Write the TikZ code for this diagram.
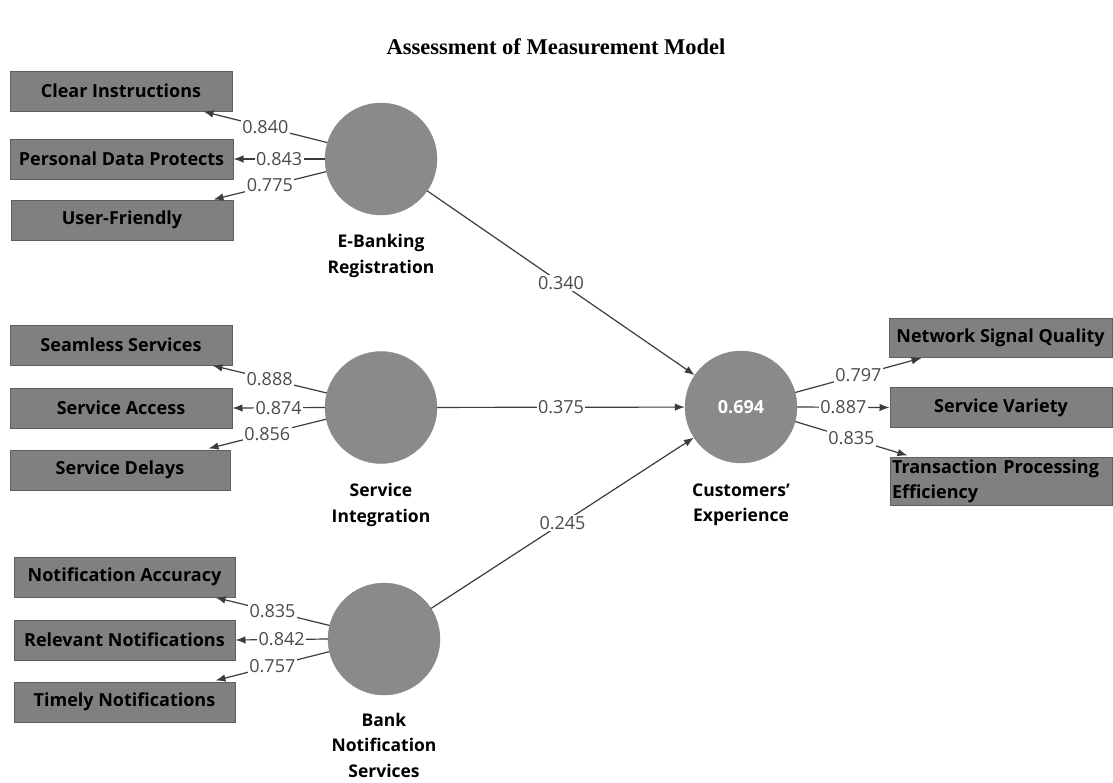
\documentclass[tikz,border=0pt]{standalone}
\usepackage{fontspec}
\setmainfont{Open Sans}
\newfontfamily\titlefont{Liberation Serif}
\usetikzlibrary{arrows.meta}
\definecolor{boxgray}{RGB}{128,128,128}
\definecolor{boxedge}{RGB}{95,95,95}
\definecolor{circgray}{RGB}{138,138,138}
\definecolor{linegray}{RGB}{60,60,60}
\definecolor{numgray}{RGB}{75,75,75}
\tikzset{
  ind/.style={draw=boxedge, fill=boxgray, line width=1pt, minimum width=222pt, minimum height=40pt, inner sep=0pt, font=\fontsize{18}{20}\selectfont\bfseries, text=black},
  lat/.style={circle, fill=circgray, draw=circgray, minimum size=112pt, inner sep=0pt},
  latlab/.style={font=\fontsize{17.5}{25.5}\selectfont\bfseries, align=center, text=black},
  path/.style={draw=linegray, line width=1.2pt, -{Latex[length=10pt,width=7.5pt]}},
  num/.style={fill=white, inner sep=1.5pt, font=\fontsize{18}{20}\selectfont, text=numgray}
}
\begin{document}
\begin{tikzpicture}[x=1pt,y=-1pt]
\useasboundingbox[fill=white] (0,0) rectangle (1113,782);
\node[font=\fontsize{22.5}{26}\selectfont\titlefont\bfseries] (title) at (556,47) {Assessment of Measurement Model};

% latent variables
\node[lat] (eb) at (381,159) {};
\node[lat] (si) at (381,407.5) {};
\node[lat] (bn) at (384,639) {};
\node[lat, font=\fontsize{18}{20}\selectfont\bfseries, text=white] (ce) at (741,407) {0.694};

\node[latlab] (ebl) at (381,256) {E-Banking\\Registration};
\node[latlab] (sil) at (381,505) {Service\\Integration};
\node[latlab] (bnl) at (384,745) {Bank\\Notification\\Services};
\node[latlab] (cel) at (741,505) {Customers'\\Experience};

% indicators
\node[ind] (ci) at (121,91) {Clear Instructions};
\node[ind, minimum width=223pt] (pd) at (121.5,159) {Personal Data Protects};
\node[ind] (uf) at (122,220) {User-Friendly};

\node[ind] (ss) at (121,345) {Seamless Services};
\node[ind] (sa) at (121,408) {Service Access};
\node[ind, minimum width=220pt] (sd) at (120,470) {Service Delays};

\node[ind, minimum width=221pt] (na) at (124.5,577) {Notification Accuracy};
\node[ind, minimum width=221pt] (rn) at (124.5,640) {Relevant Notifications};
\node[ind, minimum width=221pt] (tn) at (124.5,702) {Timely Notifications};

\node[ind, minimum width=223pt, minimum height=39pt] (nsq) at (1000.5,338) {Network Signal Quality};
\node[ind, minimum width=222pt] (sv) at (1001,407.5) {Service Variety};
\node[ind, minimum width=222pt, minimum height=48pt, text width=218pt, align=left, font=\fontsize{18}{25}\selectfont\bfseries] (tpe) at (1001,481) {Transaction Processing\\Efficiency};

% outer loadings
\draw[path] (eb.163.5) -- node[num] {0.840} ([xshift=-29pt]ci.south east);
\draw[path] (eb.180) -- node[num] {0.843} (pd.east);
\draw[path] (eb.193.5) -- node[num] {0.775} ([xshift=-20pt]uf.north east);

\draw[path] (si.165) -- node[num] {0.888} ([xshift=-20pt]ss.south east);
\draw[path] (si.180) -- node[num] {0.874} (sa.east);
\draw[path] (si.192.6) -- node[num] {0.856} ([xshift=-22pt,yshift=1pt]sd.north east);

\draw[path] (bn.166) -- node[num] {0.835} ([xshift=-20pt]na.south east);
\draw[path] (bn.180) -- node[num] {0.842} (rn.east);
\draw[path] (bn.193) -- node[num] {0.757} ([xshift=-20pt,yshift=1pt]tn.north east);

\draw[path] (ce.15) -- node[num] {0.797} ([xshift=33pt]nsq.south west);
\draw[path] (ce.0) -- node[num] {0.887} (sv.west);
\draw[path] (ce.-15) -- node[num] {0.835} ([xshift=18pt,yshift=1pt]tpe.north west);

% structural paths
\draw[path] (eb) -- node[num] {0.340} (ce);
\draw[path] (si) -- node[num] {0.375} (ce);
\draw[path] (bn) -- node[num] {0.245} (ce);
\end{tikzpicture}
\end{document}
